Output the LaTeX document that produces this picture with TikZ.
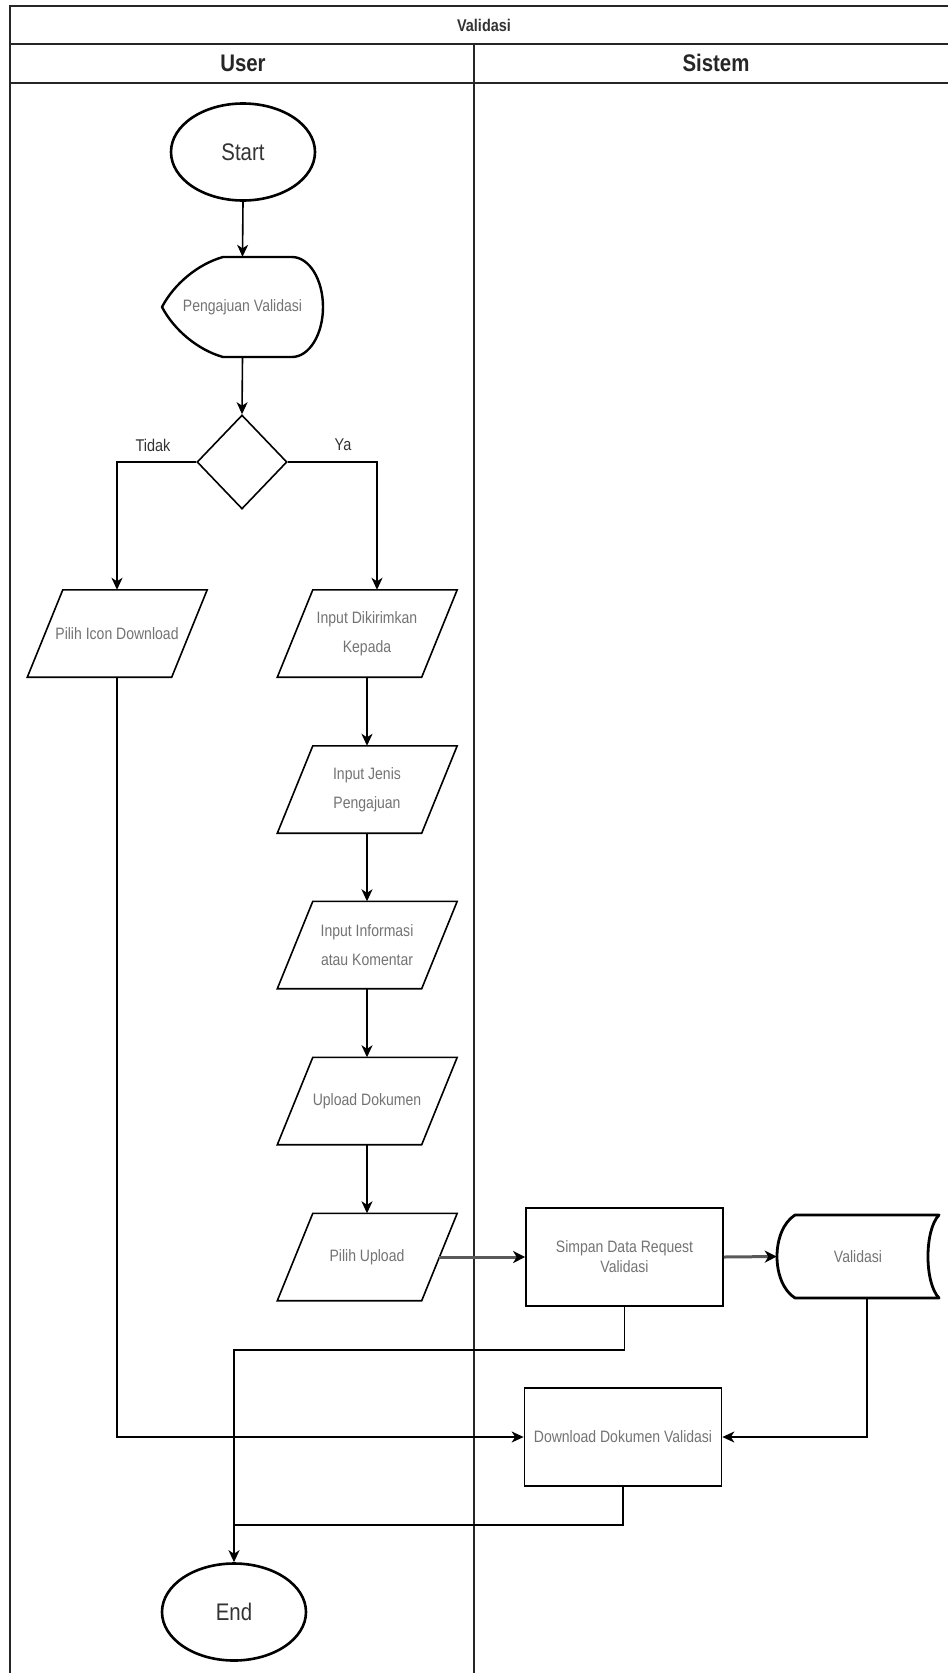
\documentclass[tikz,border=0pt]{standalone}
\usepackage{fontspec}
\setmainfont[FakeStretch=0.85]{Liberation Sans}
\usetikzlibrary{shapes.geometric,arrows.meta,calc}
\newcommand\paraoutline[1]{\draw[line width=1.6pt,line join=miter] ($(#1.north west)+(18,0)$) -- ($(#1.north east)+(18,0)$) -- ($(#1.south east)+(-17.5,0)$) -- ($(#1.south west)+(-17.5,0)$) -- cycle;}
\tikzset{
  lane/.style={line width=1.5pt,draw=black!85},
  hdr/.style={font=\bfseries\fontsize{17}{20}\selectfont,text=black!80},
  lanehdr/.style={font=\bfseries\fontsize{24}{28}\selectfont,text=black!85},
  term/.style={ellipse,draw,line width=2.6pt,minimum width=144,minimum height=97,inner sep=0pt,text=black!80,font=\fontsize{24}{28}\selectfont},
  ptext/.style={text=black!55,font=\fontsize{16.5}{20}\selectfont,align=center},
  parabox/.style={rectangle,minimum width=144,minimum height=87,inner sep=0pt,ptext},
  procbox/.style={rectangle,draw,line width=1.7pt,minimum width=197,minimum height=98,ptext},
  lbl/.style={text=black!80,font=\fontsize{17}{20}\selectfont},
  conn/.style={line width=1.6pt,-{Stealth[length=12pt,width=11pt,inset=3.5pt]}},
  plainconn/.style={line width=1.6pt},
  thickconn/.style={line width=3pt,draw=black!65,-{Stealth[length=12pt,width=12pt,inset=3.5pt,fill=black,color=black]}}
}
\begin{document}
\begin{tikzpicture}[x=1pt,y=-1pt]
\useasboundingbox (0,0) rectangle (948,1673);
% swimlane frame
\draw[lane] (10,1673) -- (10,6) -- (948,6);
\draw[lane] (10,44) -- (948,44);
\draw[lane] (10,83) -- (948,83);
\draw[lane] (474,44) -- (474,1673);
\node[hdr] (title) at (484,25) {Validasi};
\node[lanehdr] (userhdr) at (243,63) {User};
\node[lanehdr] (sistemhdr) at (716,63) {Sistem};
% nodes
\node[term] (start) at (243,152) {Start};
\node[rectangle,minimum width=161,minimum height=100,inner sep=0pt,ptext] (pv) at (242.5,307) {Pengajuan Validasi};
\draw[line width=2.4pt,line join=round] (223,257) -- (292,257)
  .. controls (309.1,257) and (323,279.4) .. (323,307)
  .. controls (323,334.6) and (309.1,357) .. (292,357)
  -- (223,357) .. controls (198,350) and (174,330) .. (162,307)
  .. controls (174,284) and (198,264) .. (223,257) -- cycle;
\node[diamond,draw,line width=1.6pt,minimum width=90,minimum height=94,inner sep=0pt] (dec) at (242,462) {};
\node[lbl] (tidak) at (153,445) {Tidak};
\node[lbl] (ya) at (343,445) {Ya};
\node[parabox] (pid) at (117,633.5) {Pilih Icon Download};
\node[parabox] (dik) at (367,633.5) {Input Dikirimkan\\[9pt]Kepada};
\node[parabox] (jen) at (367,789.5) {Input Jenis\\[9pt]Pengajuan};
\node[parabox] (inf) at (367,945) {Input Informasi\\[9pt]atau Komentar};
\node[parabox] (upd) at (367,1101) {Upload Dokumen};
\node[parabox] (pup) at (367,1257) {Pilih Upload};
\paraoutline{pid}
\paraoutline{dik}
\paraoutline{jen}
\paraoutline{inf}
\paraoutline{upd}
\paraoutline{pup}
\node[procbox] (sim) at (624.5,1257) {Simpan Data Request\\Validasi};
\node[rectangle,minimum width=162,minimum height=83,inner sep=0pt,ptext] (val) at (858,1256.5) {Validasi};
\draw[line width=2.8pt,line join=round] (795,1215) -- (939,1215)
  .. controls (924.3,1230) and (924.3,1283) .. (939,1298)
  -- (795,1298) .. controls (771,1283) and (771,1230) .. (795,1215) -- cycle;
\node[procbox] (dl) at (623,1437) {Download Dokumen Validasi};
\node[term] (end) at (234,1612) {End};
% connectors
\draw[conn] (start.south) -- (pv.north);
\draw[conn] (pv.south) -- (dec.north);
\draw[conn] (dec.west) -| (pid.north);
\coordinate (dikin) at ($(dik.north)+(10,0)$);
\draw[conn] (dec.east) -| (dikin);
\draw[conn] (dik.south) -- (jen.north);
\draw[conn] (jen.south) -- (inf.north);
\draw[conn] (inf.south) -- (upd.north);
\draw[conn] (upd.south) -- (pup.north);
\draw[thickconn] (pup.east) -- (sim.west);
\draw[thickconn] (sim.east) -- (val.west);
\draw[conn] (sim.south) -- ++(0,43) -| (end.north);
\coordinate (join) at ($(end.north)+(0,-37)$);
\draw[plainconn] (dl.south) |- (join);
\draw[conn] (pid.south) |- (dl.west);
\coordinate (valout) at ($(val.south)+(9,0)$);
\draw[conn] (valout) |- (dl.east);
\end{tikzpicture}
\end{document}
